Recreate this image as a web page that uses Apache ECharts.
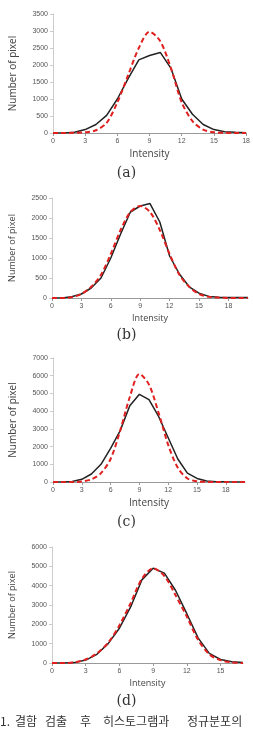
<!DOCTYPE html>
<html>
<head>
<meta charset="utf-8">
<script src="https://cdn.jsdelivr.net/npm/echarts@6/dist/echarts.min.js"></script>
<style>
  html, body { margin: 0; padding: 0; background: #fff; }
  #chart { width: 253px; height: 738px; }
</style>
</head>
<body>
<div id="chart"></div>
<script>
// histogram (black) and normal fit (red dashed), per panel
const histA = [0, 0, 20, 100, 250, 520, 1000, 1600, 2150, 2280, 2370, 1900, 1000, 550, 250, 100, 40, 20, 10]
const normA = [0, 0, 5, 20, 80, 300, 900, 1700, 2500, 2980, 2700, 1900, 900, 350, 100, 20, 5, 0, 0]

const histB = [0, 0, 30, 100, 250, 500, 1000, 1600, 2150, 2300, 2360, 1900, 1050, 600, 280, 120, 40, 20, 10, 10, 10]
const normB = [0, 0, 20, 100, 280, 580, 1100, 1700, 2150, 2300, 2150, 1700, 1100, 580, 280, 100, 30, 10, 0, 0, 0]

const histC = [0, 0, 30, 150, 450, 1000, 1900, 2900, 4300, 4950, 4650, 3700, 2500, 1300, 500, 200, 60, 20, 10, 5, 0]
const normC = [0, 0, 0, 30, 150, 500, 1300, 2900, 4800, 6100, 5500, 3900, 2100, 800, 200, 40, 5, 0, 0, 0, 0]

const histD = [0, 0, 20, 150, 450, 1000, 1800, 2900, 4300, 4900, 4650, 3750, 2550, 1300, 500, 180, 60, 30]
const normD = [0, 0, 30, 180, 500, 1050, 1950, 3100, 4350, 4900, 4500, 3500, 2400, 1200, 450, 150, 30, 0]

const panelLabels = ['(a)', '(b)', '(c)', '(d)']
const captionWords = ['1.', '결함', '검출', '후', '히스토그램과', '정규분포의']

const panels = [
  { hist: histA, norm: normA, xMax: 18, yMax: 3500, yStep: 500, nameSize: 10, grid: { left: 51, right: 3, top: 14, height: 119 }, labelY: 166 },
  { hist: histB, norm: normB, xMax: 20, yMax: 2500, yStep: 500, nameSize: 9, grid: { left: 52, right: 5, top: 198, height: 100 }, labelY: 328 },
  { hist: histC, norm: normC, xMax: 20, yMax: 7000, yStep: 1000, nameSize: 10, grid: { left: 41, right: 8, top: 358, height: 124 }, labelY: 515 },
  { hist: histD, norm: normD, xMax: 17, yMax: 6000, yStep: 1000, nameSize: 9, grid: { left: 42, right: 10, top: 547, height: 116 }, labelY: 694 }
]

const toPairs = arr => arr.map((v, i) => [i, v])

const chart = echarts.init(document.getElementById('chart'))

const grid = [], xAxis = [], yAxis = [], series = [], graphic = []
panels.forEach((p, i) => {
  grid.push(p.grid)
  xAxis.push({
    type: 'value', gridIndex: i, min: 0, max: p.xMax, interval: 3,
    name: 'Intensity', nameLocation: 'middle', nameGap: 16,
    nameTextStyle: { fontSize: p.nameSize, color: '#444', fontFamily: 'Open Sans' },
    axisLine: { lineStyle: { color: '#999', width: 1 } },
    axisTick: { show: true, length: 3, lineStyle: { color: '#999' } },
    axisLabel: { fontSize: 7, color: '#555', margin: 5, showMaxLabel: p.xMax % 3 === 0 },
    splitLine: { show: false }
  })
  yAxis.push({
    type: 'value', gridIndex: i, min: 0, max: p.yMax, interval: p.yStep,
    name: 'Number of pixel', nameLocation: 'middle', nameGap: 35,
    nameTextStyle: { fontSize: p.nameSize, color: '#444', fontFamily: 'Open Sans' },
    axisLine: { show: true, lineStyle: { color: '#ccc', width: 1 } },
    axisTick: { show: true, length: 3, lineStyle: { color: '#ccc' } },
    axisLabel: { fontSize: 7, color: '#555', margin: 5, formatter: v => String(v) },
    splitLine: { show: false }
  })
  series.push({
    type: 'line', xAxisIndex: i, yAxisIndex: i, data: toPairs(p.hist),
    symbol: 'none', lineStyle: { color: '#222', width: 1.5 }, z: 3
  })
  series.push({
    type: 'line', xAxisIndex: i, yAxisIndex: i, data: toPairs(p.norm), smooth: 0.3,
    symbol: 'none', lineStyle: { color: '#e0201f', width: 2, type: [5, 3] }, z: 4
  })
  graphic.push({
    type: 'text', left: 'center', top: p.labelY,
    style: { text: panelLabels[i], fontSize: 14, fill: '#333', fontFamily: 'DejaVu Serif' }
  })
})

// caption is a cropped figure title, words spread as in the scan
const captionX = [0, 15, 45, 80, 103, 187]
captionWords.forEach((w, k) => {
  graphic.push({
    type: 'text', left: captionX[k], top: 715,
    style: { text: w, fontSize: 12, fill: '#333', fontFamily: 'Noto Sans CJK KR' }
  })
})

chart.setOption({
  animation: false,
  grid, xAxis, yAxis, series, graphic
})
</script>
</body>
</html>
